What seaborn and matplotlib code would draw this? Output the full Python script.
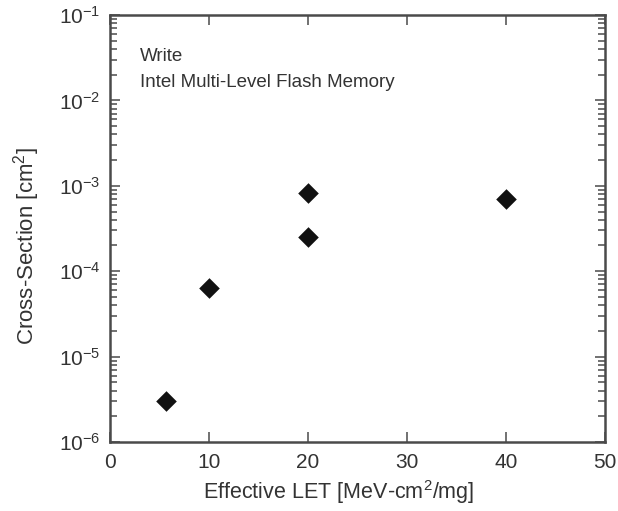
import matplotlib
matplotlib.use("Agg")
import matplotlib.pyplot as plt
import seaborn as sns
import pandas as pd
from matplotlib.ticker import LogLocator, FixedLocator, NullFormatter

let_values = [5.7, 10, 20, 20, 40]
cross_sections = [3.0e-6, 6.4e-5, 8.2e-4, 2.5e-4, 7.0e-4]
x_ticks = [0, 10, 20, 30, 40, 50]
annotation_lines = ["Write", "Intel Multi-Level Flash Memory"]

df = pd.DataFrame({"LET": let_values, "XS": cross_sections})

sns.set_style("ticks")
plt.rcParams["font.family"] = ["Liberation Sans", "DejaVu Sans"]
plt.rcParams["mathtext.fontset"] = "custom"
plt.rcParams["mathtext.rm"] = "Liberation Sans"

fig = plt.figure(figsize=(6.18, 5.11), dpi=100)
ax = fig.add_axes([110/618, 1 - 442/511, (605-110)/618, (442-15)/511])

sns.scatterplot(data=df, x="LET", y="XS", ax=ax, marker="D", s=110,
                color="#111111", edgecolor="#111111", linewidth=0, legend=False)

ax.set_yscale("log")
ax.set_xlim(0, 50)
ax.set_ylim(1e-6, 1e-1)
ax.xaxis.set_major_locator(FixedLocator(x_ticks))
ax.set_xticklabels([str(t) for t in x_ticks])
ax.yaxis.set_major_locator(LogLocator(base=10, numticks=100))
ax.yaxis.set_minor_locator(LogLocator(base=10, subs=(2., 3., 4., 5., 6., 7., 8., 9.), numticks=100))
ax.yaxis.set_minor_formatter(NullFormatter())

col = "#4a4a4a"
for s in ax.spines.values():
    s.set_linewidth(1.8)
    s.set_color(col)
ax.tick_params(axis="both", which="major", direction="in", length=7, width=1.1,
               color=col, top=True, right=True, labelsize=15, labelcolor="#333333")
ax.tick_params(axis="x", which="major", pad=8)
ax.tick_params(axis="y", which="major", pad=7)
ax.tick_params(axis="y", which="minor", direction="in", length=5, width=1.1,
               color=col, right=True, left=True)

ax.set_xlabel("Effective LET [MeV-cm$^2$/mg]", fontsize=15.5, color="#333333")
ax.set_ylabel("Cross-Section [cm$^2$]", fontsize=16, color="#333333")
ax.xaxis.set_label_coords(0.461, -0.084)
ax.yaxis.set_label_coords(-0.137, 0.46)

ax.text(0.06, 0.902, annotation_lines[0], transform=ax.transAxes, fontsize=13.5,
        color="#333333", va="center", ha="left")
ax.text(0.06, 0.841, annotation_lines[1], transform=ax.transAxes, fontsize=13.5,
        color="#333333", va="center", ha="left")

fig.savefig("out.png", dpi=100)
